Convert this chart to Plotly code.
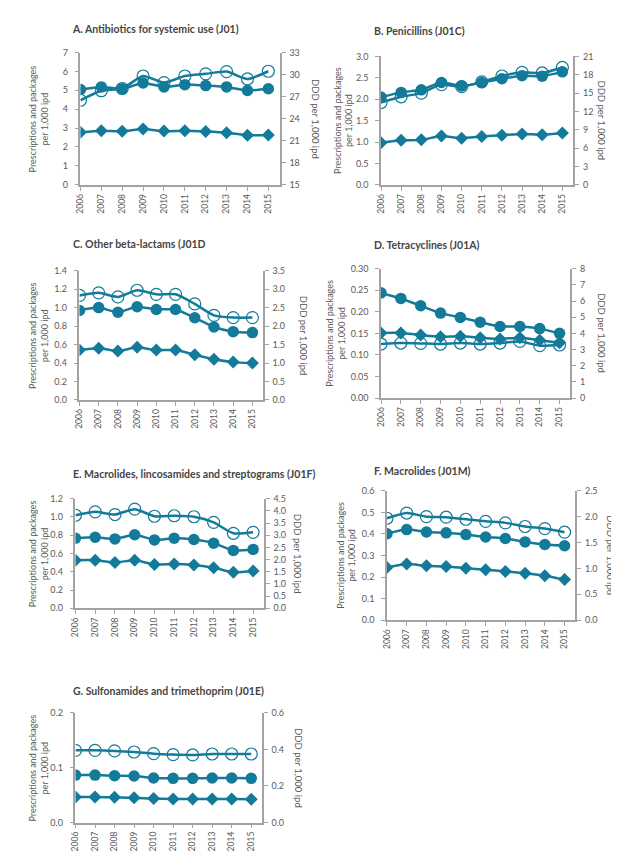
import plotly.graph_objects as go

W, H = 619, 859
years = [2006, 2007, 2008, 2009, 2010, 2011, 2012, 2013, 2014, 2015]
year_labels = [str(y) for y in years]

titles = [
    "A. Antibiotics for systemic use (J01)",
    "B. Penicillins (J01C)",
    "C. Other beta-lactams (J01D",
    "D. Tetracyclines (J01A)",
    "E. Macrolides, lincosamides and streptograms (J01F)",
    "F. Macrolides (J01M)",
    "G. Sulfonamides and trimethoprim (J01E)",
]

# Prescriptions per 1,000 ipd (filled circles, left axis)
presc_A = [5.04, 5.18, 5.08, 5.39, 5.18, 5.30, 5.25, 5.18, 4.99, 5.08]
presc_B = [2.05, 2.16, 2.22, 2.39, 2.31, 2.39, 2.48, 2.55, 2.54, 2.64]
presc_C = [0.97, 1.00, 0.95, 1.01, 0.98, 0.98, 0.89, 0.79, 0.74, 0.73]
presc_D = [0.244, 0.231, 0.214, 0.197, 0.187, 0.176, 0.166, 0.166, 0.161, 0.150]
presc_E = [0.767, 0.778, 0.760, 0.806, 0.749, 0.767, 0.753, 0.713, 0.634, 0.645]
presc_F = [0.401, 0.420, 0.409, 0.405, 0.397, 0.386, 0.379, 0.363, 0.351, 0.345]
presc_G = [0.0866, 0.0866, 0.0854, 0.0848, 0.0812, 0.0806, 0.0806, 0.0812, 0.0812, 0.0806]

# Packages per 1,000 ipd (filled diamonds, left axis)
pack_A = [2.78, 2.86, 2.83, 2.95, 2.84, 2.86, 2.82, 2.76, 2.62, 2.64]
pack_B = [0.98, 1.04, 1.05, 1.14, 1.09, 1.13, 1.16, 1.19, 1.17, 1.21]
pack_C = [0.54, 0.56, 0.53, 0.57, 0.54, 0.54, 0.49, 0.44, 0.41, 0.40]
pack_D = [0.151, 0.151, 0.146, 0.142, 0.1435, 0.140, 0.137, 0.140, 0.134, 0.128]
pack_E = [0.527, 0.527, 0.502, 0.527, 0.480, 0.484, 0.473, 0.444, 0.394, 0.409]
pack_F = [0.244, 0.260, 0.252, 0.249, 0.241, 0.234, 0.226, 0.218, 0.206, 0.188]
pack_G = [0.0466, 0.0466, 0.046, 0.0454, 0.0436, 0.043, 0.043, 0.043, 0.043, 0.0424]

# DDD per 1,000 ipd (open circles, right axis)
ddd_A = [26.5, 27.8, 28.1, 29.8, 28.9, 29.8, 30.1, 30.4, 29.4, 30.45]
ddd_B = [13.46, 14.4, 15.0, 16.4, 16.05, 16.85, 17.8, 18.4, 18.3, 19.2]
ddd_C = [2.83, 2.90, 2.79, 2.97, 2.86, 2.86, 2.60, 2.29, 2.23, 2.23]
ddd_D = [3.34, 3.40, 3.38, 3.34, 3.40, 3.34, 3.40, 3.50, 3.24, 3.28]
ddd_E = [3.82, 3.96, 3.85, 4.07, 3.78, 3.80, 3.76, 3.53, 3.08, 3.12]
ddd_F = [1.97, 2.07, 2.00, 1.99, 1.95, 1.91, 1.88, 1.81, 1.77, 1.70]
ddd_G = [0.395, 0.395, 0.392, 0.386, 0.377, 0.372, 0.370, 0.375, 0.375, 0.375]

presc = [presc_A, presc_B, presc_C, presc_D, presc_E, presc_F, presc_G]
pack = [pack_A, pack_B, pack_C, pack_D, pack_E, pack_F, pack_G]
ddd = [ddd_A, ddd_B, ddd_C, ddd_D, ddd_E, ddd_F, ddd_G]

# axis scales: (max, dtick, format)
left_axes = [(7, 1, "d"), (3.0, 0.5, ".1f"), (1.4, 0.2, ".1f"), (0.30, 0.05, ".2f"),
             (1.2, 0.2, ".1f"), (0.6, 0.1, ".1f"), (0.2, 0.1, ".1f")]
right_axes = [(15, 33, 3, "d"), (0, 21, 3, "d"), (0, 3.5, 0.5, ".1f"), (0, 8, 1, "d"),
              (0, 4.5, 0.5, ".1f"), (0, 2.5, 0.5, ".1f"), (0, 0.6, 0.2, ".1f")]

# layout boxes in pixels: left, right, top, bottom, title x, title y, left-title x, right-title x
boxes = [
    (68, 269, 39, 173, 57, 15, 26, 305),
    (371, 565, 43, 173, 362, 17, 333, 593),
    (67, 252, 260, 391, 58, 233, 26, 293),
    (371, 562, 258, 389, 362, 234, 325, 593),
    (63, 253, 491, 602, 58, 466, 26, 287),
    (377, 567, 483, 614, 362, 463, 336, 602),
    (63, 251, 708, 819, 58, 686, 26, 288),
]

TEAL = "#137a9a"
GREY = "#a3a3a3"
TXT = "#5a5a5a"
FONT = "Lato"

fig = go.Figure()
annotations = []
layout = {}

for i in range(7):
    L, R, T, B, tx, ty, ltx, rtx = boxes[i]
    xn = "x" if i == 0 else f"x{i+1}"
    yl = 2 * i + 1
    yr = 2 * i + 2
    yln = f"y{yl}" if yl > 1 else "y"
    yrn = f"y{yr}"
    xkey = "xaxis" if i == 0 else f"xaxis{i+1}"
    ylkey = "yaxis" if yl == 1 else f"yaxis{yl}"
    yrkey = f"yaxis{yr}"
    xd = [L / W, R / W]
    yd = [1 - B / H, 1 - T / H]
    layout[xkey] = dict(domain=xd, anchor=yln, range=[2006, 2015.55],
                        tickvals=years, ticktext=year_labels, tickangle=-90,
                        ticks="outside", ticklen=4, tickcolor=GREY, tickwidth=1,
                        showline=True,
                        linecolor=GREY, linewidth=1.5, showgrid=False, zeroline=False,
                        tickfont=dict(size=8.5, color=TXT, family=FONT))
    lmax, ldt, lfmt = left_axes[i]
    layout[ylkey] = dict(domain=yd, anchor=xn, range=[0, lmax], dtick=ldt, tick0=0,
                         tickformat=lfmt, ticks="outside", ticklen=4, tickcolor=GREY,
                         tickwidth=1, ticklabelstandoff=5,
                         showline=True, linecolor=GREY, linewidth=1.5, showgrid=False,
                         zeroline=False, tickfont=dict(size=9, color=TXT, family=FONT))
    rmin, rmax, rdt, rfmt = right_axes[i]
    layout[yrkey] = dict(domain=yd, anchor=xn, overlaying=yln, side="right",
                         range=[rmin, rmax], dtick=rdt, tick0=rmin, tickformat=rfmt,
                         ticks="outside", ticklen=4, tickcolor=GREY, tickwidth=1,
                         showline=True, ticklabelstandoff=2,
                         linecolor=GREY, linewidth=1.5, showgrid=False, zeroline=False,
                         tickfont=dict(size=9, color=TXT, family=FONT))

    fig.add_trace(go.Scatter(x=years, y=ddd[i], xaxis=xn, yaxis=yrn, mode="lines+markers",
                             line=dict(color=TEAL, width=2.5, shape="spline", smoothing=0.6),
                             marker=dict(symbol="circle-open", size=12,
                                         line=dict(color=TEAL, width=1.2)),
                             showlegend=False))
    fig.add_trace(go.Scatter(x=years, y=presc[i], xaxis=xn, yaxis=yln, mode="lines+markers",
                             line=dict(color=TEAL, width=2.5, shape="spline", smoothing=0.6),
                             marker=dict(symbol="circle", size=11.5, color=TEAL),
                             showlegend=False))
    fig.add_trace(go.Scatter(x=years, y=pack[i], xaxis=xn, yaxis=yln, mode="lines+markers",
                             line=dict(color=TEAL, width=2.5, shape="spline", smoothing=0.6),
                             marker=dict(symbol="diamond", size=10, color=TEAL),
                             showlegend=False))

    annotations.append(dict(text=f"<b>{titles[i]}</b>", x=tx / W, y=1 - ty / H,
                            xref="paper", yref="paper", xanchor="left", yanchor="middle",
                            showarrow=False, font=dict(size=10.5, color="#454545", family=FONT)))
    cy = 1 - ((T + B) / 2) / H
    annotations.append(dict(text="Prescriptions and packages<br>per 1,000 ipd", x=ltx / W, y=cy,
                            xref="paper", yref="paper", xanchor="center", yanchor="middle",
                            textangle=-90, showarrow=False,
                            font=dict(size=9, color=TXT, family=FONT)))
    annotations.append(dict(text="DDD per 1,000 ipd", x=rtx / W, y=cy,
                            xref="paper", yref="paper", xanchor="center", yanchor="middle",
                            textangle=90, showarrow=False,
                            font=dict(size=9.5, color=TXT, family=FONT)))

fig.update_layout(width=W, height=H, margin=dict(l=0, r=0, t=0, b=0),
                  paper_bgcolor="white", plot_bgcolor="white",
                  annotations=annotations, **layout)

fig.write_html("out.html")
